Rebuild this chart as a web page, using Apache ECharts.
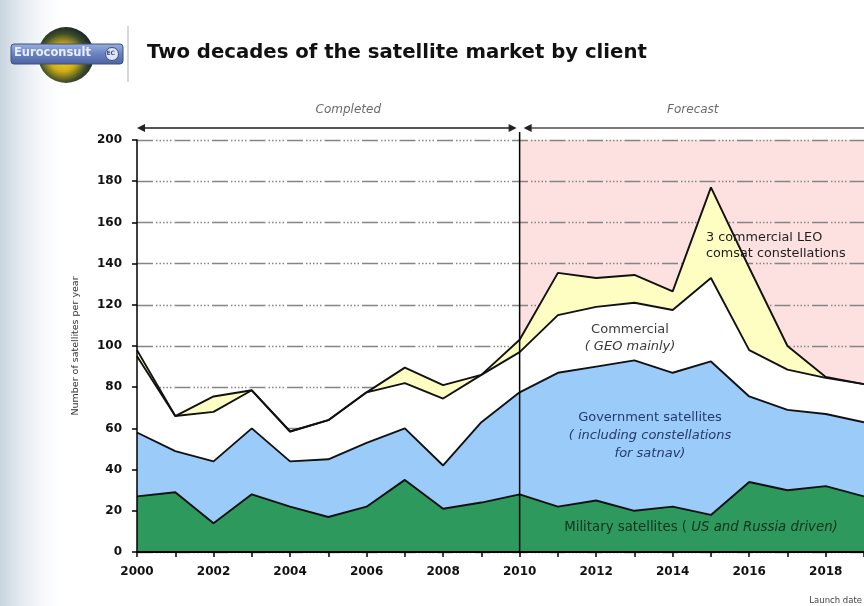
<!DOCTYPE html>
<html>
<head>
<meta charset="utf-8">
<title>Two decades of the satellite market by client</title>
<script src="https://cdn.jsdelivr.net/npm/echarts@6/dist/echarts.min.js"></script>
<style>
  html, body { margin: 0; padding: 0; background: #ffffff; }
  #chart { width: 864px; height: 606px; }
</style>
</head>
<body>
<div id="chart"></div>
<script>
// Satellites launched per year, by client (stacked)
const years = ['2000', '2001', '2002', '2003', '2004', '2005', '2006', '2007', '2008', '2009',
               '2010', '2011', '2012', '2013', '2014', '2015', '2016', '2017', '2018', '2019'];
const military      = [27, 29, 14, 28, 22, 17, 22, 35, 21, 24, 28, 22, 25, 20, 22, 18, 34, 30, 32, 27];
const government    = [31, 20, 30, 32, 22, 28, 31, 25, 21, 39, 49.5, 65, 65, 73, 65, 74.5, 41.5, 39, 35, 36];
const commercialGeo = [37, 17, 24, 18.5, 14.5, 19, 24.5, 22, 32.5, 23, 19.5, 28, 29, 28, 30.5, 40.5, 22.5, 19.5, 17.5, 18.5];
const leoComsat     = [3, 0, 7.5, 0, 0, 0, 0, 7.5, 6.5, 0, 6, 20.5, 14, 13.5, 9, 44, 40, 11.5, 0.5, 0];

const firstForecastYear = '2010';
const yMax = 200;
const yStep = 20;

const forecastIndex = years.indexOf(firstForecastYear);
const lastIndex = years.length - 1;
// shading covers the forecast years over the whole value range
const forecastBand = years.map((y, i) => (i >= forecastIndex ? yMax : '-'));

const chart = echarts.init(document.getElementById('chart'), null, { renderer: 'canvas' });

const gridDash = [16, 3, 1.5, 2, 1.5, 2, 1.5, 2, 1.5, 2, 1.5, 3];
const outline = { color: '#111111', width: 1.9 };

function areaSeries(name, data, color) {
  return {
    name: name,
    type: 'line',
    stack: 'total',
    data: data,
    xAxisIndex: 0,
    yAxisIndex: 0,
    showSymbol: false,
    symbol: 'none',
    lineStyle: outline,
    areaStyle: { color: color, opacity: 1 },
    z: 2,
    silent: true
  };
}

chart.setOption({
  animation: false,
  backgroundColor: '#ffffff',
  grid: { left: 137, right: 0, top: 140, bottom: 54, containLabel: false },
  xAxis: {
    type: 'category',
    data: years,
    boundaryGap: false,
    z: 10,
    axisLine: { show: true, lineStyle: { color: '#000000', width: 2 } },
    axisTick: { show: true, interval: 0, length: 5, lineStyle: { color: '#000000', width: 1.5 } },
    splitLine: { show: false },
    axisLabel: {
      interval: 1,
      margin: 14,
      fontFamily: 'DejaVu Sans',
      fontWeight: 'bold',
      fontSize: 12,
      color: '#111111'
    }
  },
  yAxis: [
    {
      // grid lines only, drawn beneath the stacked areas
      type: 'value', min: 0, max: yMax, interval: yStep, z: 1,
      axisLine: { show: false }, axisTick: { show: false }, axisLabel: { show: false },
      splitLine: { show: true, lineStyle: { color: '#858585', width: 1.3, type: gridDash } }
    },
    {
      type: 'value', min: 0, max: yMax, interval: yStep, z: 10, position: 'left',
      name: 'Number of satellites per year',
      nameLocation: 'middle',
      nameGap: 56,
      nameRotate: 90,
      nameTextStyle: { fontFamily: 'DejaVu Sans', fontSize: 9.5, color: '#333333' },
      axisLine: { show: true, lineStyle: { color: '#000000', width: 1.5 } },
      axisTick: { show: true, length: 5, lineStyle: { color: '#000000', width: 1.5 } },
      splitLine: { show: false },
      axisLabel: { margin: 15, fontFamily: 'DejaVu Sans', fontWeight: 'bold', fontSize: 12, color: '#111111' }
    }
  ],
  series: [
    {
      // forecast period shading
      name: 'Forecast',
      type: 'line',
      data: forecastBand,
      xAxisIndex: 0,
      yAxisIndex: 0,
      showSymbol: false,
      symbol: 'none',
      lineStyle: { width: 0, opacity: 0 },
      areaStyle: { color: '#fde1e1', opacity: 1 },
      z: 0,
      silent: true
    },
    areaSeries('Military satellites', military, '#2e995c'),
    areaSeries('Government satellites', government, '#9bcbf8'),
    areaSeries('Commercial (GEO mainly)', commercialGeo, '#ffffff'),
    areaSeries('3 commercial LEO comsat constellations', leoComsat, '#fefdc2')
  ]
});

// Decorations positioned from the chart's own scales
const px = (i, v) => chart.convertToPixel({ gridIndex: 0 }, [i, v]);
const pStart = px(0, yMax);
const pForecastTop = px(forecastIndex, yMax);
const pForecastBottom = px(forecastIndex, 0);
const pEnd = px(lastIndex, yMax);
const arrowY = pStart[1] - 12;

function arrowHead(x, y, dir) {
  // dir: -1 points left, 1 points right
  return {
    type: 'polygon',
    shape: { points: [[x, y], [x - dir * 8, y - 4], [x - dir * 8, y + 4]] },
    style: { fill: '#222222' },
    z: 20
  };
}

const textBase = { fontFamily: 'DejaVu Sans', fontSize: 13 };

chart.setOption({
  graphic: [
    // soft band at the left edge of the page
    {
      type: 'rect', shape: { x: 0, y: 0, width: 70, height: 606 },
      style: {
        fill: new echarts.graphic.LinearGradient(0, 0, 1, 0, [
          { offset: 0, color: 'rgba(190,204,218,0.85)' },
          { offset: 0.45, color: 'rgba(220,228,236,0.5)' },
          { offset: 1, color: 'rgba(255,255,255,0)' }
        ])
      },
      z: -5, silent: true
    },
    // logo: globe with name plate
    {
      type: 'circle', shape: { cx: 66, cy: 55, r: 28 },
      style: {
        fill: new echarts.graphic.RadialGradient(0.45, 0.55, 0.6, [
          { offset: 0, color: '#f6d81e' },
          { offset: 0.4, color: '#d2ae16' },
          { offset: 0.72, color: '#3c4d2a' },
          { offset: 1, color: '#161a2a' }
        ])
      },
      z: 5
    },
    {
      type: 'rect', shape: { x: 11, y: 44, width: 112, height: 20, r: 3 },
      style: {
        fill: new echarts.graphic.LinearGradient(0, 0, 0, 1, [
          { offset: 0, color: '#9bb0dc' },
          { offset: 0.5, color: '#6a83bf' },
          { offset: 1, color: '#4a62a0' }
        ]),
        stroke: '#3a5088', lineWidth: 1
      },
      z: 6
    },
    {
      type: 'text', left: 14, top: 47,
      style: { text: 'Euroconsult', fontFamily: 'DejaVu Sans', fontWeight: 'bold', fontSize: 11.5, fill: '#e8eeff' },
      z: 7
    },
    {
      type: 'circle', shape: { cx: 112, cy: 54, r: 6.5 },
      style: { fill: '#dfe6f5', stroke: '#3a5088', lineWidth: 1 }, z: 7
    },
    {
      type: 'text', left: 106.5, top: 50.5,
      style: { text: 'EC', fontFamily: 'DejaVu Sans', fontWeight: 'bold', fontSize: 6, fill: '#3a5088' }, z: 8
    },
    // separator next to the logo
    {
      type: 'line', shape: { x1: 128, y1: 26, x2: 128, y2: 82 },
      style: { stroke: '#c9c9c9', lineWidth: 1.5 }, z: 5
    },
    // title
    {
      type: 'text', left: 147, top: 43,
      style: {
        text: 'Two decades of the satellite market by client',
        fontFamily: 'DejaVu Sans', fontWeight: 'bold', fontSize: 19.7, fill: '#111111'
      },
      z: 10
    },
    // period labels and arrows
    {
      type: 'text', x: (pStart[0] + pForecastTop[0]) / 2 + 20, y: 110,
      style: { text: 'Completed', fontFamily: 'DejaVu Sans', fontStyle: 'italic', fontSize: 12,
               fill: '#6a6a6a', align: 'center', verticalAlign: 'middle' },
      z: 10
    },
    {
      type: 'text', x: (pForecastTop[0] + pEnd[0]) / 2 + 1, y: 110,
      style: { text: 'Forecast', fontFamily: 'DejaVu Sans', fontStyle: 'italic', fontSize: 12,
               fill: '#6a6a6a', align: 'center', verticalAlign: 'middle' },
      z: 10
    },
    {
      type: 'line', shape: { x1: pStart[0] + 2, y1: arrowY, x2: pForecastTop[0] - 5, y2: arrowY },
      style: { stroke: '#555555', lineWidth: 2 }, z: 19
    },
    arrowHead(pStart[0], arrowY, -1),
    arrowHead(pForecastTop[0] - 3, arrowY, 1),
    {
      type: 'line', shape: { x1: pForecastTop[0] + 6, y1: arrowY, x2: pEnd[0], y2: arrowY },
      style: { stroke: '#7a7a7a', lineWidth: 2 }, z: 19
    },
    arrowHead(pForecastTop[0] + 4, arrowY, -1),
    // boundary between completed and forecast years
    {
      type: 'line', shape: { x1: pForecastTop[0], y1: arrowY + 4, x2: pForecastBottom[0], y2: pForecastBottom[1] },
      style: { stroke: '#000000', lineWidth: 1.5 }, z: 15
    },
    // area annotations
    {
      type: 'text', x: 706, y: 246,
      style: {
        text: '3 commercial LEO\ncomsat constellations', ...textBase, fontSize: 12.8, fill: '#1e1e1e',
        lineHeight: 16, verticalAlign: 'middle'
      },
      z: 12
    },
    {
      type: 'text', x: 630, y: 338,
      style: {
        text: '{n|Commercial}\n{i|( GEO mainly)}',
        align: 'center', verticalAlign: 'middle',
        rich: {
          n: { ...textBase, fill: '#3a3a3a', lineHeight: 17 },
          i: { ...textBase, fontStyle: 'italic', fill: '#3a3a3a', lineHeight: 17 }
        }
      },
      z: 12
    },
    {
      type: 'text', x: 650, y: 436,
      style: {
        text: '{n|Government satellites}\n{i|( including constellations}\n{i|for satnav)}',
        align: 'center', verticalAlign: 'middle',
        rich: {
          n: { ...textBase, fill: '#243a6a', lineHeight: 18 },
          i: { ...textBase, fontStyle: 'italic', fill: '#243a6a', lineHeight: 18 }
        }
      },
      z: 12
    },
    {
      type: 'text', x: 701, y: 528,
      style: {
        text: '{n|Military satellites ( }{i|US and Russia driven)}',
        align: 'center', verticalAlign: 'middle',
        rich: {
          n: { ...textBase, fontSize: 13.3, fill: '#13321f' },
          i: { ...textBase, fontSize: 13.3, fontStyle: 'italic', fill: '#13321f' }
        }
      },
      z: 12
    },
    {
      type: 'text', x: 862, y: 601,
      style: { text: 'Launch date', fontFamily: 'DejaVu Sans', fontSize: 8.5, fill: '#444444',
               align: 'right', verticalAlign: 'middle' },
      z: 12
    }
  ]
});
</script>
</body>
</html>
